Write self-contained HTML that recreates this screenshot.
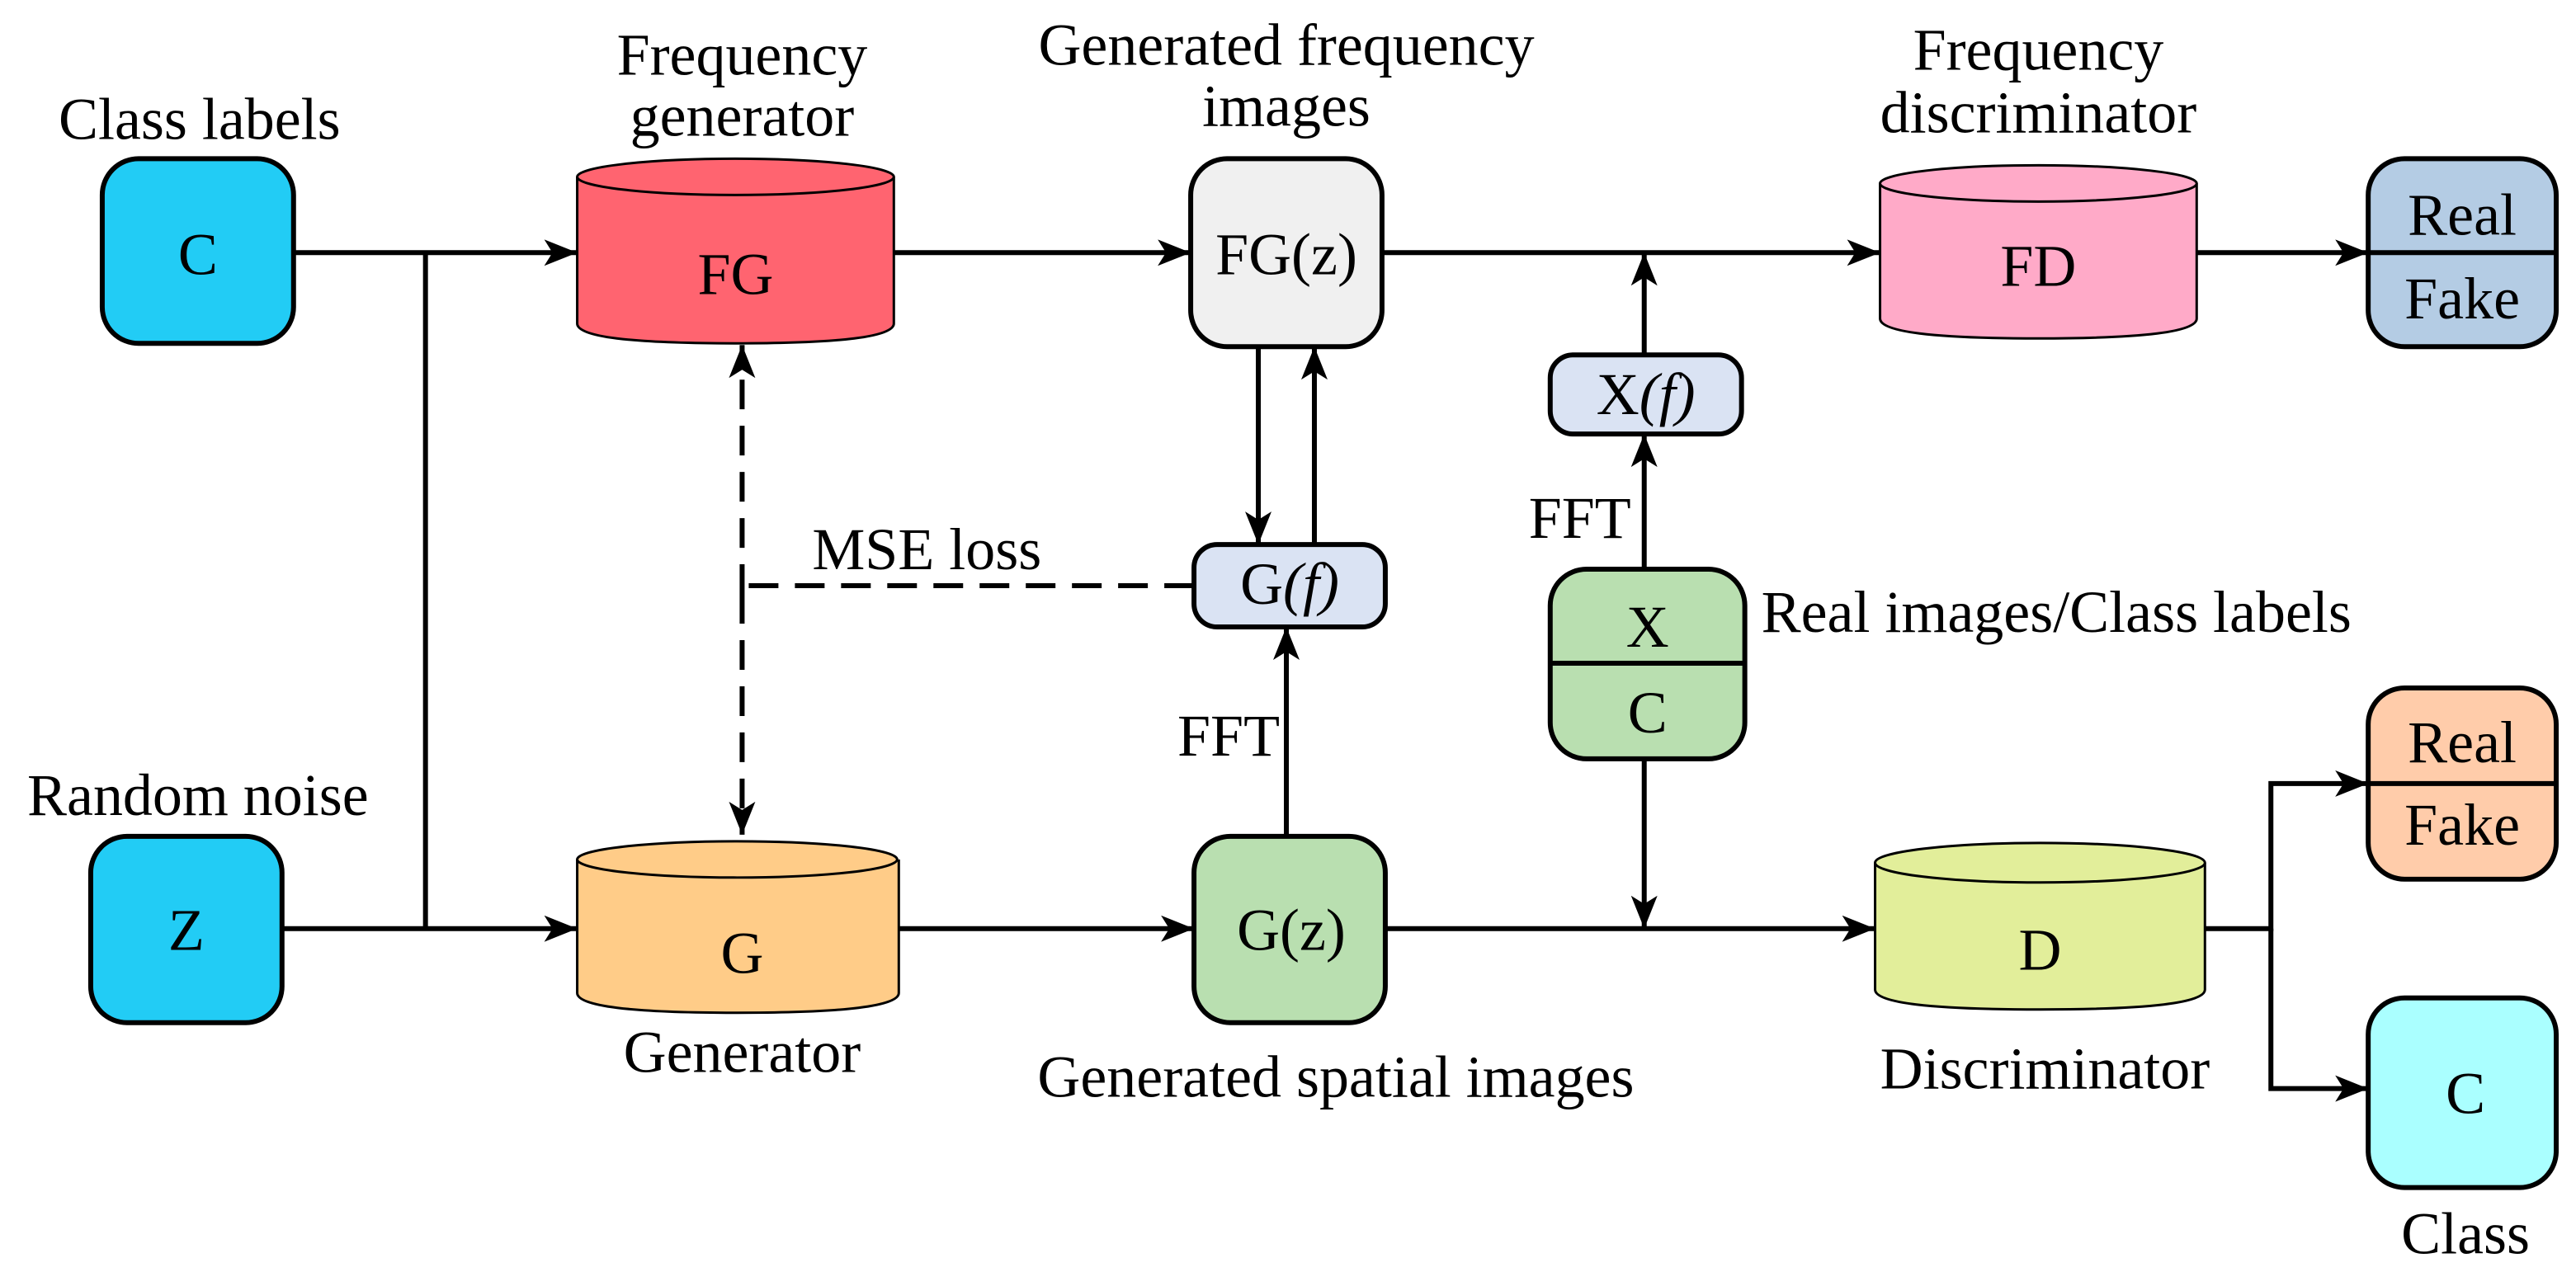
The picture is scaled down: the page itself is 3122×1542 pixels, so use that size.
<!DOCTYPE html>
<html><head><meta charset="utf-8"><style>html,body{margin:0;padding:0;background:#fff}svg{display:block}text{font-family:"Liberation Serif","Times New Roman",serif;font-size:36px}</style></head><body>
<svg width="3122" height="1542" viewBox="0 0 1562 771" xmlns="http://www.w3.org/2000/svg" text-anchor="middle">
<defs>
<marker id="a" viewBox="0 0 20 16" refX="20" refY="8" markerWidth="20" markerHeight="16" markerUnits="userSpaceOnUse" orient="auto"><path d="M0,0 L20,8 L0,16 L5,8 Z" fill="#000"/></marker>
</defs>
<g stroke="#000" stroke-width="3" fill="none">
<line x1="178" y1="153" x2="350" y2="153" marker-end="url(#a)"/>
<line x1="258" y1="153" x2="258" y2="563"/>
<line x1="171" y1="563" x2="350" y2="563" marker-end="url(#a)"/>
<line x1="542" y1="153" x2="722" y2="153" marker-end="url(#a)"/>
<line x1="838" y1="153" x2="1140" y2="153" marker-end="url(#a)"/>
<line x1="997" y1="215" x2="997" y2="153" marker-end="url(#a)"/>
<line x1="997" y1="345" x2="997" y2="263" marker-end="url(#a)"/>
<line x1="997" y1="460" x2="997" y2="563" marker-end="url(#a)"/>
<line x1="1332" y1="153" x2="1436" y2="153" marker-end="url(#a)"/>
<line x1="763" y1="210" x2="763" y2="330" marker-end="url(#a)"/>
<line x1="797" y1="330" x2="797" y2="210" marker-end="url(#a)"/>
<line x1="780" y1="507" x2="780" y2="380" marker-end="url(#a)"/>
<line x1="545" y1="563" x2="724" y2="563" marker-end="url(#a)"/>
<line x1="840" y1="563" x2="1137" y2="563" marker-end="url(#a)"/>
<polyline points="1337,563 1377,563 1377,475 1436,475" marker-end="url(#a)"/>
<polyline points="1377,563 1377,660 1436,660" marker-end="url(#a)"/>
<line x1="724" y1="355" x2="450" y2="355" stroke-dasharray="18,10"/>
<line x1="450" y1="360" x2="450" y2="209" stroke-dasharray="18,10" marker-end="url(#a)"/>
<line x1="450" y1="360" x2="450" y2="506" stroke-dasharray="18,10" marker-end="url(#a)"/>
</g>
<g stroke="#000" stroke-width="3">
<rect x="62" y="96" width="116" height="112" rx="22" fill="#22CCF5"/>
<rect x="55" y="507" width="116" height="113" rx="22" fill="#22CCF5"/>
<rect x="722" y="96" width="116" height="114" rx="22" fill="#F0F0F0"/>
<rect x="724" y="507" width="116" height="113" rx="22" fill="#B9DFB0"/>
<rect x="724" y="330" width="116" height="50" rx="14" fill="#DAE3F3"/>
<rect x="940" y="215" width="116" height="48" rx="14" fill="#DAE3F3"/>
<rect x="940" y="345" width="118" height="115" rx="22" fill="#B9DFB0"/>
<line x1="940" y1="402" x2="1058" y2="402"/>
<rect x="1436" y="96" width="114" height="114" rx="22" fill="#B4CCE4"/>
<line x1="1436" y1="153" x2="1550" y2="153"/>
<rect x="1436" y="417" width="114" height="116" rx="22" fill="#FFCCAA"/>
<line x1="1436" y1="475" x2="1550" y2="475"/>
<rect x="1436" y="605" width="114" height="115" rx="22" fill="#AAFFFF"/>
</g>
<g stroke="#000" stroke-width="1.5">
<path d="M350,107 V196 Q350,208 446,208 Q542,208 542,196 V107" fill="#FF6470"/>
<ellipse cx="446" cy="107" rx="96" ry="11" fill="#FF6470"/>
<path d="M1140,111 V193 Q1140,205 1236,205 Q1332,205 1332,193 V111" fill="#FFAAC8"/>
<ellipse cx="1236" cy="111" rx="96" ry="11" fill="#FFAAC8"/>
<path d="M350,521 V602 Q350,614 447,614 Q545,614 545,602 V521" fill="#FFCC88"/>
<ellipse cx="447" cy="521" rx="97" ry="11" fill="#FFCC88"/>
<path d="M1137,523 V600 Q1137,612 1237,612 Q1337,612 1337,600 V523" fill="#E2EE9A"/>
<ellipse cx="1237" cy="523" rx="100" ry="12" fill="#E2EE9A"/>
</g>
<g fill="#000">
<text x="121" y="84">Class labels</text>
<text x="120" y="166">C</text>
<text x="450" y="45">Frequency</text>
<text x="450" y="82">generator</text>
<text x="446" y="178">FG</text>
<text x="780" y="39">Generated  frequency</text>
<text x="780" y="76">images</text>
<text x="780" y="166">FG(z)</text>
<text x="1236" y="42">Frequency</text>
<text x="1236" y="80">discriminator</text>
<text x="1236" y="173">FD</text>
<text x="1493" y="142">Real</text>
<text x="1493" y="193">Fake</text>
<text x="998" y="251">X<tspan font-style="italic">(f)</tspan></text>
<text x="958" y="326">FFT</text>
<text x="999" y="392">X</text>
<text x="999" y="444">C</text>
<text x="1068" y="383" text-anchor="start">Real images/Class labels</text>
<text x="562" y="345">MSE loss</text>
<text x="782" y="366">G<tspan font-style="italic">(f)</tspan></text>
<text x="745" y="458">FFT</text>
<text x="120" y="494">Random noise</text>
<text x="113" y="576">Z</text>
<text x="450" y="590">G</text>
<text x="450" y="650">Generator</text>
<text x="810" y="665">Generated spatial images</text>
<text x="783" y="576">G(z)</text>
<text x="1237" y="588">D</text>
<text x="1240" y="660">Discriminator</text>
<text x="1493" y="462">Real</text>
<text x="1493" y="512">Fake</text>
<text x="1495" y="675">C</text>
<text x="1495" y="760">Class</text>
</g>
</svg>
</body></html>
